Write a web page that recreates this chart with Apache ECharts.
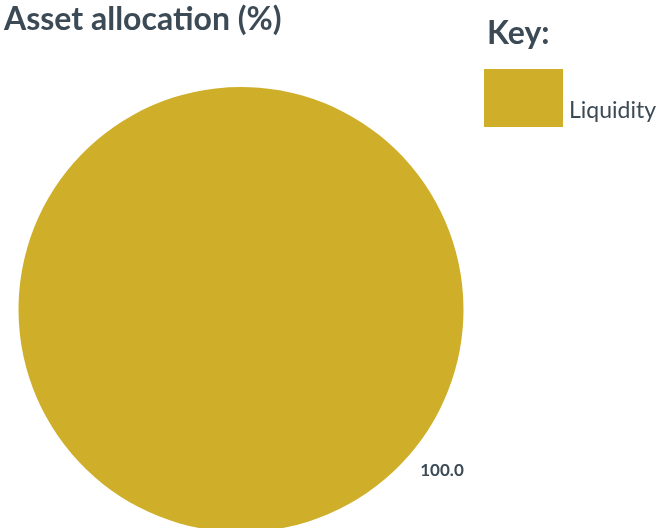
<!DOCTYPE html>
<html>
<head>
<meta charset="utf-8">
<script src="https://cdn.jsdelivr.net/npm/echarts@6/dist/echarts.min.js"></script>
<style>
  html, body { margin: 0; padding: 0; background: #ffffff; }
  #chart { width: 659px; height: 528px; }
</style>
</head>
<body>
<div id="chart"></div>
<script>
// Asset classes and their share of the portfolio (%)
const categories = ['Liquidity'];
const shares = [100.0];
const colours = ['#CFAF2A'];

const textColour = '#3B4A55';
const fontFamily = 'Lato, "Open Sans", sans-serif';

const chart = echarts.init(document.getElementById('chart'), null, { renderer: 'canvas' });

chart.setOption({
  animation: false,
  title: [
    {
      text: 'Asset allocation (%)',
      left: 4,
      top: 4,
      padding: 0,
      textStyle: { color: textColour, fontFamily, fontWeight: 'bold', fontSize: 32 }
    },
    {
      text: 'Key:',
      left: 487,
      top: 18,
      padding: 0,
      textStyle: { color: textColour, fontFamily, fontWeight: 'bold', fontSize: 32 }
    }
  ],
  legend: {
    left: 484,
    top: 69,
    padding: 0,
    orient: 'vertical',
    icon: 'rect',
    itemWidth: 79,
    itemHeight: 58,
    data: categories,
    formatter: (name) => '{t|' + name + '}',
    textStyle: {
      color: textColour,
      fontFamily,
      fontSize: 23,
      rich: {
        t: {
          color: textColour,
          fontFamily,
          fontSize: 23,
          padding: [26, 0, 0, 1]
        }
      }
    }
  },
  series: [
    {
      type: 'pie',
      center: [241, 309.5],
      radius: 222.5,
      startAngle: 141.5,
      silent: true,
      data: categories.map((name, i) => ({
        name,
        value: shares[i],
        itemStyle: { color: colours[i] }
      })),
      label: {
        show: true,
        position: 'outside',
        formatter: (p) => p.value.toFixed(1),
        color: textColour,
        fontFamily,
        fontWeight: 'bold',
        fontSize: 17
      },
      labelLine: { show: false },
      labelLayout: { x: 442, y: 471, align: 'center', verticalAlign: 'middle' }
    }
  ]
});
</script>
</body>
</html>
